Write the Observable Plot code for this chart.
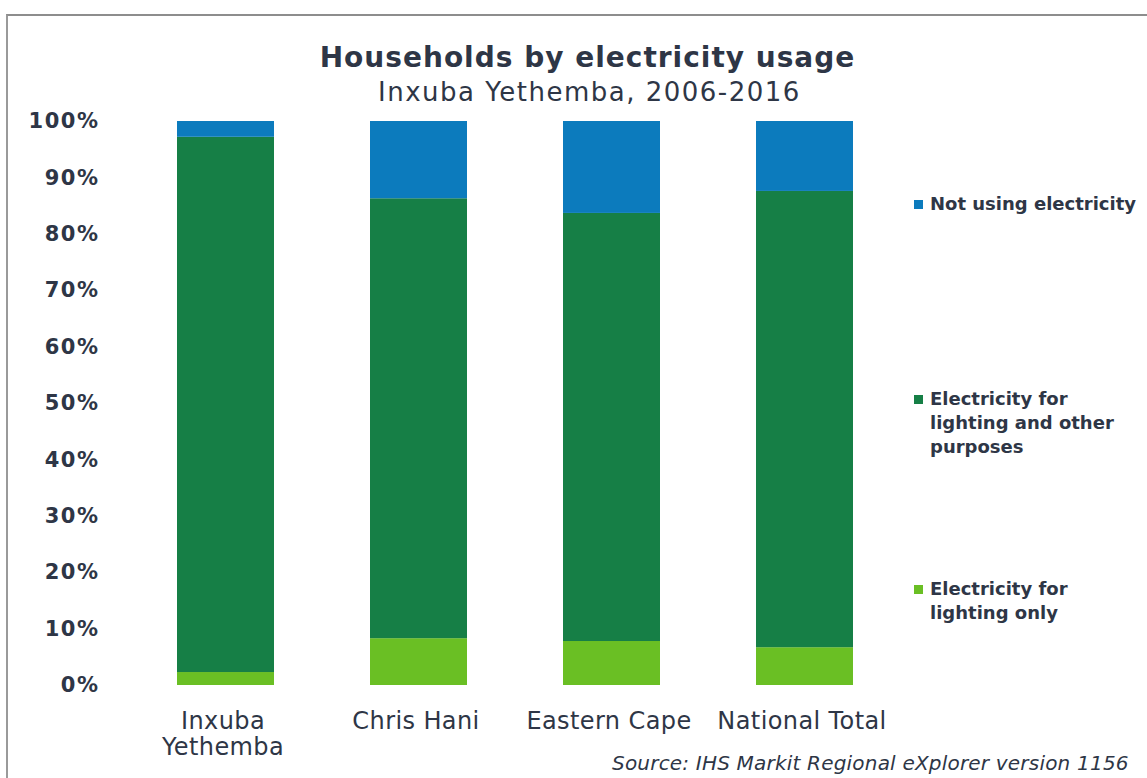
<!DOCTYPE html>
<html>
<head>
<meta charset="utf-8">
<script src="https://cdn.jsdelivr.net/npm/d3@7"></script>
<script src="https://cdn.jsdelivr.net/npm/@observablehq/plot@0.6"></script>
<style>
  html, body { margin: 0; padding: 0; background: #fff; overflow: hidden; }
  #page { position: relative; width: 1147px; height: 778px; font-family: "DejaVu Sans", Verdana, sans-serif; color: #2e3646; overflow: hidden; }
  #frame { position: absolute; left: 6px; top: 14px; width: 1160px; height: 780px; border-top: 2px solid #8d8d8d; border-left: 2px solid #9a9a9a; }
  #title { position: absolute; left: 14px; width: 1147px; top: 41px; text-align: center; font-weight: bold; font-size: 28px; letter-spacing: 1px; }
  #subtitle { position: absolute; left: 16px; width: 1147px; top: 77px; text-align: center; font-size: 26px; letter-spacing: 1.5px; }
  #chart { position: absolute; left: 0; top: 100px; }
  #legend { position: absolute; left: 914px; top: 0; }
  .item { position: absolute; left: 0; width: 230px; font-size: 18px; font-weight: bold; line-height: 24px; }
  .sw { position: absolute; left: 0; top: 8px; width: 9px; height: 9px; }
  .lt { position: absolute; left: 16px; top: 0; white-space: nowrap; }
  #source { position: absolute; left: 612px; top: 751px; font-size: 20px; line-height: 24px; font-style: italic; white-space: nowrap; letter-spacing: 0.2px; }
  g[aria-label="y-axis tick label"] text { letter-spacing: 1.5px; }
  g[aria-label="x-axis tick label"] text { letter-spacing: 0.4px; }
</style>
</head>
<body>
<div id="page">
  <div id="frame"></div>
  <div id="title">Households by electricity usage</div>
  <div id="subtitle">Inxuba Yethemba, 2006-2016</div>
  <div id="chart"></div>
  <div id="legend"></div>
  <div id="source">Source: IHS Markit Regional eXplorer version 1156</div>
</div>
<script>
// ---- data ----
const categories = ["Inxuba Yethemba", "Chris Hani", "Eastern Cape", "National Total"];
const categoryLabels = ["Inxuba\nYethemba", "Chris Hani", "Eastern Cape", "National Total"];
const seriesNames = ["Electricity for lighting only", "Electricity for lighting and other purposes", "Not using electricity"];
const seriesLabels = ["Electricity for\nlighting only", "Electricity for\nlighting and other\npurposes", "Not using electricity"];
const seriesColors = ["#6abf24", "#167f46", "#0c7bbd"];
const lightingOnly = [2.3, 8.3, 7.8, 6.7];
const lightingOther = [94.9, 78.0, 75.9, 80.9];
const notUsing = [2.8, 13.7, 16.3, 12.4];
const yTicks = [0, 10, 20, 30, 40, 50, 60, 70, 80, 90, 100];

const seriesValues = [lightingOnly, lightingOther, notUsing];
const data = [];
seriesNames.forEach((s, si) => {
  categories.forEach((c, ci) => data.push({category: c, series: s, value: seriesValues[si][ci]}));
});
const labelOf = new Map(categories.map((c, i) => [c, categoryLabels[i]]));

const chart = Plot.plot({
  width: 1147,
  height: 678,
  marginTop: 21,
  marginBottom: 93,
  marginLeft: 105,
  marginRight: 223,
  style: {fontFamily: "'DejaVu Sans', Verdana, sans-serif", color: "#2e3646", background: "transparent"},
  x: {domain: categories, paddingInner: 0.5, paddingOuter: 0.367},
  y: {domain: [0, 100]},
  color: {domain: seriesNames, range: seriesColors},
  marks: [
    Plot.barY(data, {x: "category", y: "value", fill: "series", order: seriesNames}),
    Plot.axisY({ticks: yTicks, tickSize: 0, tickPadding: 6, tickFormat: d => d + "%", fontSize: 21, fontWeight: "bold", label: null}),
    Plot.axisX({tickSize: 0, tickPadding: 25, dx: -3, tickFormat: d => labelOf.get(d), fontSize: 24, lineHeight: 1.08, label: null})
  ]
});
document.getElementById("chart").appendChild(chart);

// legend (HTML), positioned to match reference
const legendTops = [577, 387, 192]; // px from page top, first line of each item
const legend = document.getElementById("legend");
seriesNames.forEach((s, i) => {
  const item = document.createElement("div");
  item.className = "item";
  item.style.top = legendTops[i] + "px";
  const sw = document.createElement("div");
  sw.className = "sw";
  sw.style.background = seriesColors[i];
  const lt = document.createElement("div");
  lt.className = "lt";
  lt.innerHTML = seriesLabels[i].split("\n").join("<br>");
  item.appendChild(sw);
  item.appendChild(lt);
  legend.appendChild(item);
});
</script>
</body>
</html>
